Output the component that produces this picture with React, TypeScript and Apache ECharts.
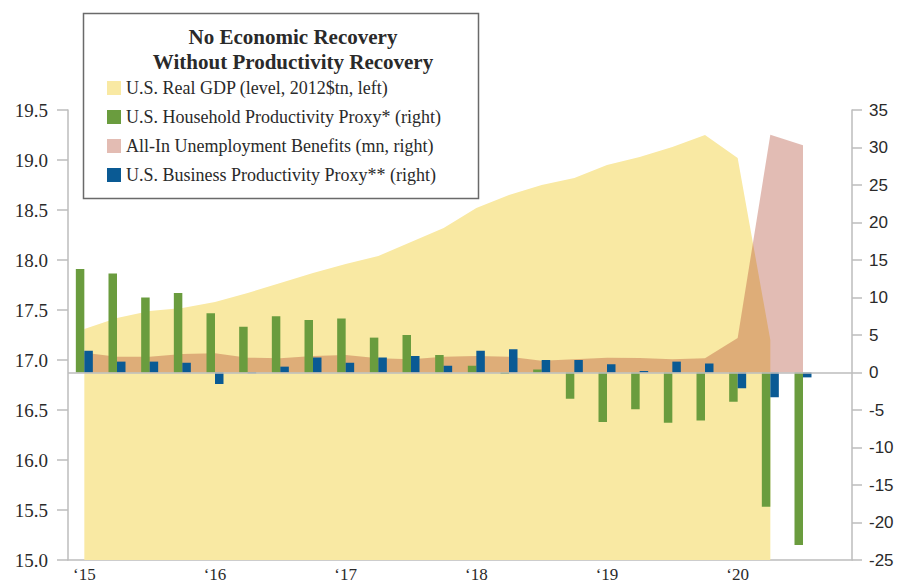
import React, { useEffect, useRef } from 'react';
import * as echarts from 'echarts';

// Quarterly categories, Q1 2015 .. Q4 2020
const quarters = [
  '2015 Q1', '2015 Q2', '2015 Q3', '2015 Q4',
  '2016 Q1', '2016 Q2', '2016 Q3', '2016 Q4',
  '2017 Q1', '2017 Q2', '2017 Q3', '2017 Q4',
  '2018 Q1', '2018 Q2', '2018 Q3', '2018 Q4',
  '2019 Q1', '2019 Q2', '2019 Q3', '2019 Q4',
  '2020 Q1', '2020 Q2', '2020 Q3', '2020 Q4',
];
const yearLabels = ['\u201815', '\u201816', '\u201817', '\u201818', '\u201819', '\u201820'];

// U.S. Real GDP (level, 2012$tn) - left axis
const realGdp = [
  17.31, 17.42, 17.49, 17.52, 17.58, 17.67, 17.77, 17.87,
  17.96, 18.04, 18.18, 18.32, 18.52, 18.65, 18.75, 18.82,
  18.95, 19.03, 19.13, 19.25, 19.02, 17.2,
];
// All-In Unemployment Benefits (mn) - right axis
const benefits = [
  2.64, 2.1, 2.1, 2.47, 2.56, 1.98, 1.89, 2.2,
  2.33, 1.9, 1.76, 2.1, 2.2, 2.1, 1.58, 1.76,
  1.98, 1.93, 1.76, 1.89, 4.6, 31.7, 30.3,
];
// U.S. Household Productivity Proxy* - right axis
const household = [
  13.8, 13.2, 10.0, 10.6, 7.9, 6.1, 7.5, 7.0,
  7.2, 4.65, 5.0, 2.33, 0.9, -0.2, 0.4, -3.5,
  -6.6, -4.9, -6.7, -6.4, -3.9, -17.9, -23.0,
];
// U.S. Business Productivity Proxy** - right axis
const business = [
  2.9, 1.45, 1.45, 1.3, -1.53, -0.1, 0.78, 2.0,
  1.3, 2.0, 2.2, 0.9, 2.9, 3.1, 1.67, 1.67,
  1.1, 0.2, 1.45, 1.2, -2.1, -3.3, -0.65,
];

const leftTicks = { min: 15, max: 19.5, interval: 0.5 };
const rightTicks = { min: -25, max: 35, interval: 5 };

const names = {
  gdp: 'U.S. Real GDP (level, 2012$tn, left)',
  hh: 'U.S. Household Productivity Proxy* (right)',
  ben: 'All-In Unemployment Benefits (mn, right)',
  biz: 'U.S. Business Productivity Proxy** (right)',
};

const C = {
  yellow: '#F9E9A3',
  green: '#6A9C3E',
  pink: '#E3BCB3',
  pinkFill: 'rgb(172,64,41)',
  blue: '#0A5A94',
  axis: '#BDBDBD',
  text: '#2A2A2A',
};

const serif = '"Liberation Serif", "Times New Roman", serif';
const sans = '"Liberation Sans", Arial, sans-serif';

export default function App() {
  const ref = useRef<HTMLDivElement>(null);
  useEffect(() => {
    if (!ref.current) return;
    const chart = echarts.init(ref.current, null, { renderer: 'svg' });
    const option: any = {
      animation: false,
      backgroundColor: '#fff',
      grid: { left: 68, right: 51, top: 110, bottom: 26, containLabel: false, outerBoundsMode: 'none' },
      xAxis: {
        type: 'category',
        data: quarters,
        boundaryGap: true,
        axisLine: { show: true, onZero: false, lineStyle: { color: C.axis, width: 1.5 } },
        axisTick: { show: false },
        axisLabel: {
          interval: (i: number) => i % 4 === 0,
          formatter: (_v: string, i: number) => (i % 4 === 0 ? yearLabels[i / 4] : ''),
          fontFamily: serif,
          fontSize: 17,
          color: C.text,
          margin: 6,
        },
        splitLine: { show: false },
      },
      yAxis: [
        {
          type: 'value',
          position: 'left',
          ...leftTicks,
          axisLine: { show: true, lineStyle: { color: C.axis, width: 1.5 } },
          axisTick: { show: true, length: 11, lineStyle: { color: C.axis, width: 1.5 } },
          axisLabel: {
            formatter: (v: number) => v.toFixed(1),
            fontFamily: serif,
            fontSize: 19,
            color: C.text,
            margin: 20,
          },
          splitLine: { show: false },
        },
        {
          type: 'value',
          position: 'right',
          ...rightTicks,
          axisLine: { show: true, lineStyle: { color: C.axis, width: 1.5 } },
          axisTick: { show: true, length: 10, lineStyle: { color: C.axis, width: 1.5 } },
          axisLabel: {
            fontFamily: sans,
            fontSize: 17,
            color: C.text,
            margin: 17,
          },
          splitLine: { show: false },
        },
      ],
      legend: {
        orient: 'vertical',
        left: 102,
        top: 74,
        itemWidth: 14,
        itemHeight: 14,
        itemGap: 11,
        itemTextGap: 5,
        icon: 'rect',
        selectedMode: false,
        textStyle: { fontFamily: serif, fontSize: 18, color: C.text },
        itemStyle: { borderWidth: 0 },
        data: [
          { name: names.gdp, itemStyle: { color: C.yellow } },
          { name: names.hh, itemStyle: { color: C.green } },
          { name: names.ben, itemStyle: { color: C.pink } },
          { name: names.biz, itemStyle: { color: C.blue } },
        ],
      },
      graphic: [
        {
          type: 'rect',
          z: 0,
          shape: { x: 83.5, y: 13.5, width: 395, height: 185 },
          style: { fill: '#fff', stroke: '#6a6a6a', lineWidth: 1.5 },
        },
        {
          type: 'text',
          z: 1,
          x: 293,
          y: 37,
          style: {
            text: 'No Economic Recovery',
            font: 'bold 21px ' + serif,
            fill: C.text,
            textAlign: 'center',
            textVerticalAlign: 'middle',
            align: 'center',
            verticalAlign: 'middle',
          },
        },
        {
          type: 'text',
          z: 1,
          x: 293,
          y: 62,
          style: {
            text: 'Without Productivity Recovery',
            font: 'bold 21px ' + serif,
            fill: C.text,
            textAlign: 'center',
            textVerticalAlign: 'middle',
            align: 'center',
            verticalAlign: 'middle',
          },
        },
      ],
      series: [
        {
          name: names.gdp,
          type: 'line',
          yAxisIndex: 0,
          data: realGdp,
          symbol: 'none',
          lineStyle: { width: 0, opacity: 0 },
          itemStyle: { color: C.yellow },
          areaStyle: { color: C.yellow, opacity: 1 },
          z: 1,
        },
        {
          name: names.ben,
          type: 'line',
          yAxisIndex: 1,
          data: benefits,
          symbol: 'none',
          lineStyle: { width: 0, opacity: 0 },
          itemStyle: { color: C.pink },
          areaStyle: { color: C.pinkFill, opacity: 0.35 },
          z: 2,
        },
        {
          name: names.hh,
          type: 'bar',
          yAxisIndex: 1,
          data: household,
          barWidth: 8.5,
          barGap: '0%',
          itemStyle: { color: C.green },
          z: 3,
          markLine: {
            silent: true,
            symbol: 'none',
            label: { show: false },
            lineStyle: { color: C.axis, width: 1.5, type: 'solid' },
            data: [{ yAxis: 0 }],
          },
        },
        {
          name: names.biz,
          type: 'bar',
          yAxisIndex: 1,
          data: business,
          barWidth: 8.5,
          barGap: '0%',
          itemStyle: { color: C.blue },
          z: 3,
        },
      ],
    };
    chart.setOption(option);
    return () => chart.dispose();
  }, []);
  return (
    <div
      ref={ref}
      style={{ position: 'fixed', left: 0, top: 0, width: 903, height: 586, background: '#fff' }}
    />
  );
}
